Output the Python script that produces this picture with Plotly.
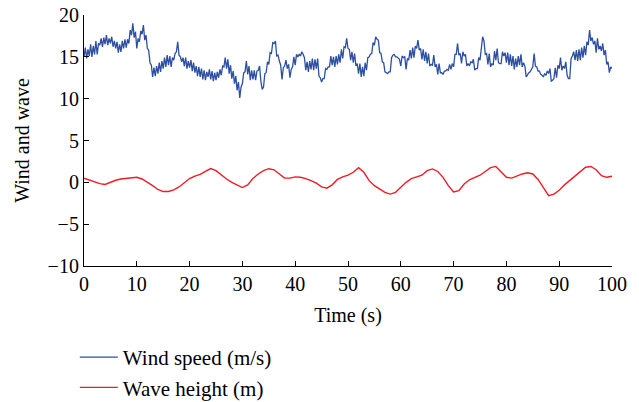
import plotly.graph_objects as go

# Wind speed sampled every 0.25 s from 0 to 100 s
wind_speed = [
    15.0, 16.1, 14.8, 15.9, 15.1, 16.5, 15.0, 16.3, 15.3, 16.9, 15.3, 16.6, 16.4, 17.2, 16.2, 17.3, 16.5, 17.6, 16.4, 17.2,
    16.6, 17.4, 16.2, 16.9, 16.0, 16.8, 15.5, 16.5, 15.6, 16.9, 16.0, 17.1, 16.1, 17.1, 16.6, 18.2, 17.6, 19.0, 17.3, 18.0,
    16.0, 17.2, 16.8, 18.1, 17.7, 18.8, 17.0, 17.6, 16.0, 15.8, 14.3, 14.0, 12.6, 13.7, 12.7, 13.9, 13.0, 14.3, 13.2, 14.5,
    13.6, 14.9, 13.8, 15.2, 14.0, 15.1, 13.8, 14.9, 14.6, 15.4, 15.6, 16.8, 15.2, 15.0, 14.4, 14.9, 13.9, 14.9, 13.6, 14.5,
    13.7, 14.6, 13.3, 14.3, 13.1, 13.9, 12.7, 13.8, 12.6, 13.6, 12.3, 13.4, 12.2, 13.2, 12.6, 13.5, 12.3, 13.3, 12.1, 13.1,
    12.2, 13.2, 12.5, 13.5, 12.8, 13.9, 13.8, 14.9, 13.6, 14.7, 13.0, 14.0, 12.4, 13.3, 11.8, 12.7, 11.0, 12.0, 10.1, 11.4,
    11.8, 13.1, 13.2, 14.5, 12.9, 13.9, 12.2, 13.4, 12.3, 13.4, 12.2, 13.3, 13.4, 13.9, 12.1, 11.1, 11.4, 13.0, 13.1, 14.4,
    14.1, 15.5, 15.4, 16.7, 16.6, 16.9, 15.1, 15.2, 14.5, 14.0, 12.3, 13.7, 13.9, 14.6, 13.6, 14.1, 12.5, 13.5, 13.8, 15.0,
    14.0, 15.3, 15.0, 15.3, 15.1, 15.6, 15.3, 14.9, 13.4, 14.4, 13.2, 14.5, 13.5, 14.8, 13.4, 14.7, 13.6, 14.8, 12.7, 12.5,
    12.0, 12.4, 12.4, 13.6, 13.5, 13.8, 13.8, 15.1, 14.0, 15.0, 13.8, 15.1, 14.1, 15.3, 14.3, 15.9, 14.8, 16.2, 16.1, 17.2,
    16.0, 15.9, 14.6, 15.6, 14.3, 15.4, 13.9, 14.2, 13.0, 14.2, 12.6, 13.8, 12.7, 14.3, 13.4, 14.9, 15.0, 15.3, 15.4, 16.7,
    16.4, 17.4, 17.1, 17.0, 15.5, 15.4, 14.4, 14.3, 13.2, 13.1, 13.0, 13.2, 13.2, 14.9, 15.2, 15.3, 15.0, 15.0, 14.8, 14.7,
    13.9, 15.1, 14.9, 15.0, 13.5, 14.8, 14.6, 15.8, 14.8, 16.1, 14.9, 16.3, 16.0, 17.0, 15.8, 16.0, 14.7, 15.9, 14.5, 15.6,
    14.2, 15.4, 13.9, 14.1, 14.0, 15.2, 13.8, 14.1, 12.9, 14.2, 13.1, 13.1, 12.9, 13.3, 13.3, 13.5, 13.4, 14.1, 13.5, 14.2,
    13.8, 15.3, 15.3, 16.6, 15.2, 15.4, 14.2, 15.6, 15.1, 15.3, 13.9, 14.2, 13.9, 14.4, 14.3, 14.7, 13.4, 13.6, 13.6, 14.9,
    14.6, 16.2, 17.4, 16.9, 15.3, 15.4, 14.1, 15.4, 13.8, 14.2, 14.0, 15.7, 14.6, 16.0, 14.3, 14.2, 14.2, 15.6, 15.1, 15.5,
    14.3, 15.5, 14.0, 15.3, 13.9, 15.1, 13.5, 14.8, 13.8, 15.1, 14.0, 15.3, 13.8, 14.3, 13.9, 12.6, 12.9, 13.1, 13.2, 13.6,
    13.8, 15.4, 13.9, 13.8, 13.3, 13.3, 12.9, 12.8, 12.6, 13.0, 12.8, 13.3, 13.0, 13.6, 12.1, 12.2, 12.4, 13.7, 12.5, 14.0,
    13.6, 14.9, 13.4, 13.9, 13.6, 14.4, 12.8, 12.4, 12.4, 14.8, 15.1, 15.6, 14.6, 15.8, 14.5, 15.9, 14.6, 16.1, 14.9, 16.3,
    15.2, 16.8, 16.4, 18.2, 16.9, 17.3, 16.5, 16.9, 15.5, 17.2, 15.9, 16.3, 15.7, 16.6, 15.2, 15.8, 14.1, 14.4, 13.1, 13.8,
    13.6,
]
wind_time = [i * 0.25 for i in range(len(wind_speed))]

# Wave height sampled every 1 s from 0 to 100 s
wave_height = [
    0.5, 0.3, 0.1, -0.15, -0.25, 0.0, 0.25, 0.4, 0.45, 0.55,
    0.6, 0.4, 0.05, -0.4, -0.85, -1.1, -1.1, -0.9, -0.55, 0.0,
    0.45, 0.75, 0.95, 1.3, 1.65, 1.4, 0.85, 0.4, 0.0, -0.35,
    -0.62, -0.3, 0.45, 1.0, 1.4, 1.63, 1.5, 1.0, 0.5, 0.5,
    0.65, 0.6, 0.45, 0.2, -0.1, -0.55, -0.7, -0.3, 0.35, 0.65,
    0.85, 1.2, 1.75, 1.2, 0.2, -0.4, -0.8, -1.2, -1.4, -1.2,
    -0.6, 0.0, 0.45, 0.65, 0.85, 1.4, 1.6, 1.3, 0.6, -0.4,
    -1.15, -1.0, -0.2, 0.3, 0.55, 0.85, 1.3, 1.75, 1.9, 1.3,
    0.6, 0.5, 0.75, 1.0, 1.15, 1.0, 0.35, -0.7, -1.6, -1.4,
    -0.95, -0.3, 0.25, 0.8, 1.3, 1.8, 1.9, 1.5, 0.8, 0.6,
    0.72,
]
wave_time = list(range(len(wave_height)))

x_ticks = [0, 10, 20, 30, 40, 50, 60, 70, 80, 90, 100]
y_ticks = [-10, -5, 0, 5, 10, 15, 20]

FONT = "Liberation Serif"

fig = go.Figure()
fig.add_trace(go.Scatter(x=wind_time, y=wind_speed, mode="lines",
                         name="Wind speed (m/s)",
                         line=dict(color="#2D4FA2", width=1.3)))
fig.add_trace(go.Scatter(x=wave_time, y=wave_height, mode="lines",
                         name="Wave height (m)",
                         line=dict(color="#EE1C25", width=1.4)))

fig.update_layout(
    width=639, height=402,
    margin=dict(l=84, r=27, t=15, b=136),
    paper_bgcolor="white", plot_bgcolor="white",
    font=dict(family=FONT, size=20, color="black"),
    showlegend=True,
    legend=dict(xref="paper", yref="container",
                x=-0.0174, xanchor="left", y=0.162, yanchor="top",
                orientation="v", font=dict(family=FONT, size=21),
                itemwidth=38,
                bgcolor="rgba(0,0,0,0)", tracegroupgap=0),
    xaxis=dict(range=[0, 100], tickvals=x_ticks, showgrid=False, zeroline=False,
               showline=True, linecolor="black", linewidth=1.2,
               ticks="inside", ticklen=5, tickcolor="black", automargin=False,
               tickfont=dict(size=20), ticklabeloverflow="allow",
               title=dict(text="Time (s)", standoff=13, font=dict(size=20))),
    yaxis=dict(range=[-10, 20], tickvals=y_ticks, showgrid=False, zeroline=False,
               showline=True, linecolor="black", linewidth=1.2,
               ticks="inside", ticklen=5, tickcolor="black", automargin=False,
               tickfont=dict(size=20), ticklabeloverflow="allow",
               title=dict(text="Wind and wave", standoff=12, font=dict(size=20))),
)

# Remove the default page margin so the figure sits at the window's corner
fig.write_html("out.html", config={"displayModeBar": False},
               post_script="document.body.style.margin='0px';")
